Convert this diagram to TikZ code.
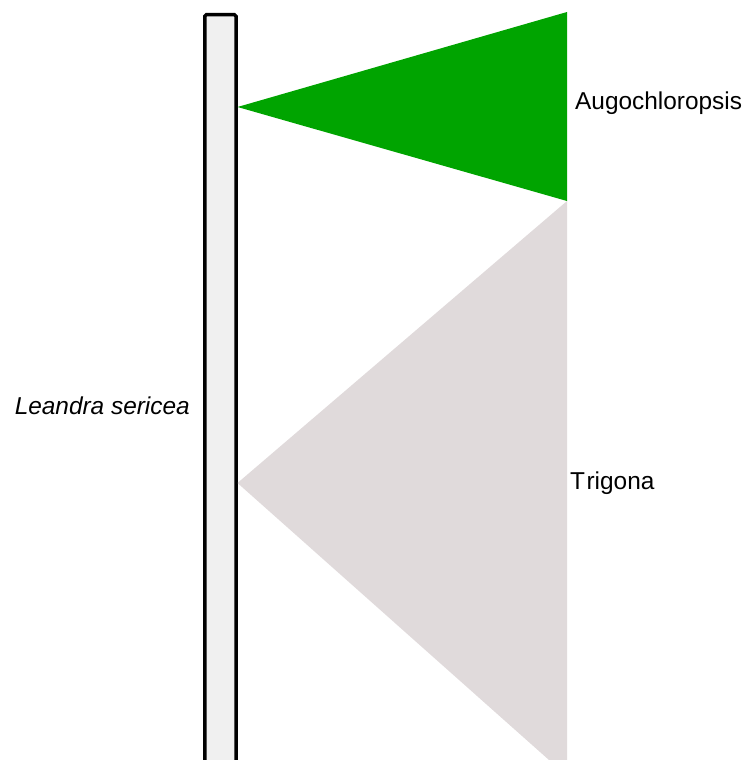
\documentclass[tikz,border=0pt]{standalone}
\usepackage{fontspec}
\setmainfont{Liberation Sans}
\definecolor{bargray}{HTML}{F0F0F0}
\definecolor{augo}{HTML}{00A400}
\definecolor{trig}{HTML}{E0DADB}
\begin{document}
\begin{tikzpicture}[x=1bp,y=-1bp,
  lbl/.style={font=\fontsize{24.5}{29}\selectfont, inner sep=0pt, text=black}]
\useasboundingbox (0,0) rectangle (747,760);
\begin{scope}
\clip (0,0) rectangle (747,760);
% bar
\draw[fill=bargray, line width=3.5bp, rounded corners=1.5bp] (204.75,14.75) rectangle (236,790);
% interaction triangles
\coordinate (augtip) at (237.5,107);
\coordinate (trigtip) at (237.5,483);
\fill[augo] (augtip) -- (567,12) -- (567,201) -- cycle;
\fill[trig] (trigtip) -- (567,201) -- (567,776) -- cycle;
\end{scope}
\node[lbl, anchor=east, font=\fontsize{24.5}{29}\selectfont\itshape] (leandra) at (190,406) {Leandra sericea};
\node[lbl, anchor=west] (augochloropsis) at (575,103) {Augochloropsis};
\node[lbl, anchor=west] (trigona) at (570,483) {T\kern1.5bp rigona};
\end{tikzpicture}
\end{document}
